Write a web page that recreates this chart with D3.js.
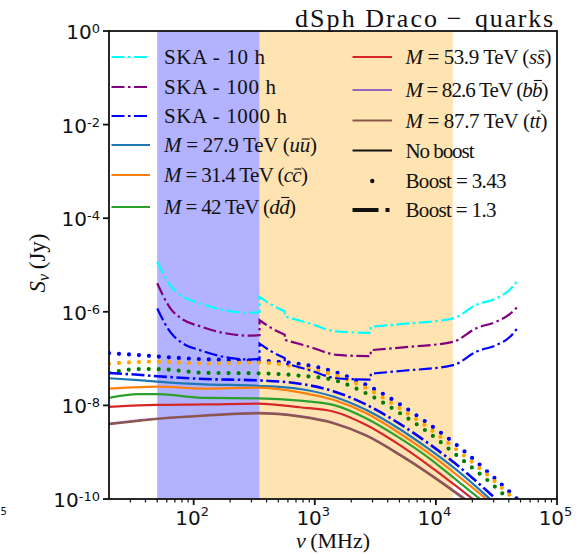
<!DOCTYPE html>
<html>
<head>
<meta charset="utf-8">
<script src="https://cdn.jsdelivr.net/npm/d3@7"></script>
<style>
  html, body { margin: 0; padding: 0; background: #fff; }
  svg { display: block; }
</style>
</head>
<body>
<svg id="chart" width="588" height="555"></svg>
<script>
// ---------------------------------------------------------------
// Data: synchrotron flux density from dark-matter annihilation in
// the Draco dwarf spheroidal, with SKA sensitivity curves.
// Flux values are stored as log10(S / Jy); frequencies in MHz.
// ---------------------------------------------------------------

// Frequency grid of the model spectra (MHz)
const modelFreq = [20, 35, 50, 124, 341, 753, 1420, 2670, 5040, 8610, 15500, 28000, 50000];

// No-boost spectra, log10(S/Jy)
const logS_uu = [-7.42, -7.46, -7.49, -7.55, -7.58, -7.65, -7.81, -8.10, -8.51, -8.92, -9.42, -10.00, -10.60];
const logS_cc = [-7.64, -7.61, -7.60, -7.64, -7.62, -7.72, -7.88, -8.17, -8.60, -9.01, -9.52, -10.07, -10.67];
const logS_dd = [-7.84, -7.76, -7.76, -7.84, -7.85, -7.90, -7.99, -8.28, -8.70, -9.11, -9.64, -10.18, -10.78];
const logS_ss = [-8.03, -8.00, -7.99, -7.98, -7.96, -8.04, -8.13, -8.42, -8.85, -9.27, -9.77, -10.30, -10.90];
const logS_bb = [-8.39, -8.32, -8.28, -8.21, -8.16, -8.23, -8.37, -8.64, -9.05, -9.44, -9.90, -10.41, -11.00];
const logS_tt = [-8.40, -8.33, -8.29, -8.22, -8.17, -8.24, -8.38, -8.65, -9.06, -9.45, -9.92, -10.42, -11.02];

// Substructure boost factors
const boostHigh = 3.43;
const boostLow = 1.3;

// SKA sensitivity: frequency bands (MHz) joined by vertical steps
const skaFreq = [
  [50, 64, 82, 113, 175, 291, 350],
  [350, 440, 565],
  [565, 910, 1515, 2900],
  [2900, 5360, 13870, 21600, 31600, 40700, 47700]
];
const logS_ska10h = [
  [-4.93, -5.43, -5.68, -5.82, -5.96, -6.02, -6.00],
  [-5.68, -5.85, -5.99],
  [-6.10, -6.25, -6.42, -6.45],
  [-6.32, -6.26, -6.14, -5.85, -5.71, -5.53, -5.32]
];
const logS_ska100h = [
  [-5.39, -5.92, -6.17, -6.31, -6.45, -6.51, -6.50],
  [-6.18, -6.35, -6.49],
  [-6.60, -6.75, -6.92, -6.95],
  [-6.82, -6.76, -6.64, -6.35, -6.21, -6.05, -5.88]
];
const logS_ska1000h = [
  [-5.93, -6.43, -6.68, -6.82, -6.96, -7.02, -7.00],
  [-6.68, -6.85, -6.99],
  [-7.10, -7.25, -7.42, -7.45],
  [-7.32, -7.26, -7.14, -6.85, -6.71, -6.54, -6.33]
];

// SKA-Low and SKA-Mid frequency coverage (MHz)
const skaLowRange = [50, 350];
const skaMidRange = [350, 13800];

// Axis ticks
const xTickExponents = [2, 3, 4, 5];
const yTickExponents = [0, -2, -4, -6, -8, -10];

// ---------------------------------------------------------------
// Layout
// ---------------------------------------------------------------
const W = 588, H = 555;
const plot = { left: 109, right: 557, top: 31, bottom: 499 };
const SERIF = "'Liberation Serif', 'Times New Roman', serif";
const SANS = "'DejaVu Sans', sans-serif";

const svg = d3.select("#chart");
svg.append("rect").attr("width", W).attr("height", H).attr("fill", "#fff");

const x = d3.scaleLog().domain([20, 1e5]).range([plot.left, plot.right]);
const y = d3.scaleLog().domain([1e-10, 1]).range([plot.bottom, plot.top]);
const pow10 = v => Math.pow(10, v);

svg.append("defs").append("clipPath").attr("id", "plotClip")
  .append("rect")
  .attr("x", plot.left).attr("y", plot.top)
  .attr("width", plot.right - plot.left)
  .attr("height", plot.bottom - plot.top);

const gPlot = svg.append("g").attr("clip-path", "url(#plotClip)");

// Shaded SKA frequency ranges
const bands = [
  { range: skaLowRange, color: "#0000ff" },
  { range: skaMidRange, color: "#ffa500" }
];
gPlot.selectAll("rect.band").data(bands).join("rect")
  .attr("class", "band")
  .attr("x", d => x(d.range[0]))
  .attr("width", d => x(d.range[1]) - x(d.range[0]))
  .attr("y", plot.top)
  .attr("height", plot.bottom - plot.top)
  .attr("fill", d => d.color)
  .attr("fill-opacity", 0.3);

// Line builders
const line = d3.line()
  .x(d => x(d[0]))
  .y(d => y(d[1]))
  .curve(d3.curveMonotoneX);

function spectrumPath(freqs, logs, factor = 1) {
  return line(freqs.map((f, i) => [f, pow10(logs[i]) * factor]));
}
// Joins several bands into one continuous path (vertical steps between bands)
function bandedPath(freqBands, logBands) {
  return freqBands.map((fs, i) => {
    const p = spectrumPath(fs, logBands[i]);
    return i === 0 ? p : "L" + p.slice(1);
  }).join("");
}

const DASHDOT = "13 3.5 2.5 3.5";

// No-boost spectra
const models = [
  { logs: logS_uu, color: "#1f77b4" },
  { logs: logS_cc, color: "#ff7f0e" },
  { logs: logS_dd, color: "#2ca02c" },
  { logs: logS_ss, color: "#d62728" },
  { logs: logS_bb, color: "#9467bd" },
  { logs: logS_tt, color: "#8c564b" }
];
gPlot.selectAll("path.model").data(models).join("path")
  .attr("class", "model")
  .attr("d", d => spectrumPath(modelFreq, d.logs))
  .attr("fill", "none")
  .attr("stroke", d => d.color)
  .attr("stroke-width", 2.2);

// Boosted spectra (dotted: boost 3.43)
const boosted = [
  { logs: logS_uu, color: "#0000ff" },
  { logs: logS_cc, color: "#ffa500" },
  { logs: logS_dd, color: "#008000" }
];
gPlot.selectAll("path.boosted").data(boosted).join("path")
  .attr("class", "boosted")
  .attr("d", d => spectrumPath(modelFreq, d.logs, boostHigh))
  .attr("fill", "none")
  .attr("stroke", d => d.color)
  .attr("stroke-width", 4.2)
  .attr("stroke-linecap", "round")
  .attr("stroke-dasharray", "0 10");

// Boost 1.3 spectrum (dash-dot)
gPlot.append("path")
  .attr("d", spectrumPath(modelFreq, logS_uu, boostLow))
  .attr("fill", "none")
  .attr("stroke", "#0000ff")
  .attr("stroke-width", 2.6)
  .attr("stroke-dasharray", DASHDOT);

// SKA sensitivity curves
const ska = [
  { logs: logS_ska10h, color: "#00ffff" },
  { logs: logS_ska100h, color: "#800080" },
  { logs: logS_ska1000h, color: "#0000ff" }
];
gPlot.selectAll("path.ska").data(ska).join("path")
  .attr("class", "ska")
  .attr("d", d => bandedPath(skaFreq, d.logs))
  .attr("fill", "none")
  .attr("stroke", d => d.color)
  .attr("stroke-width", 2.2)
  .attr("stroke-dasharray", DASHDOT);

// ---------------------------------------------------------------
// Axes
// ---------------------------------------------------------------
const gAxes = svg.append("g");
const AX = "#111";

// x ticks (major + minor)
const xMinor = [];
for (let e = 1; e < 5; e++) {
  for (let m = 2; m <= 9; m++) {
    const v = m * Math.pow(10, e);
    if (v > 20 && v < 1e5) xMinor.push(v);
  }
}
gAxes.selectAll("line.xminor").data(xMinor).join("line")
  .attr("x1", d => x(d)).attr("x2", d => x(d))
  .attr("y1", plot.bottom).attr("y2", plot.bottom + 3.5)
  .attr("stroke", AX).attr("stroke-width", 1.2);
gAxes.selectAll("line.xmajor").data(xTickExponents).join("line")
  .attr("x1", d => x(pow10(d))).attr("x2", d => x(pow10(d)))
  .attr("y1", plot.bottom).attr("y2", plot.bottom + 6)
  .attr("stroke", AX).attr("stroke-width", 1.8);

const xLabels = gAxes.selectAll("text.xtick").data(xTickExponents).join("text")
  .attr("x", d => x(pow10(d)) - 1.5)
  .attr("y", 525)
  .attr("text-anchor", "middle")
  .attr("font-family", SANS).attr("font-size", 20).attr("fill", "#111");
xLabels.append("tspan").text("10");
xLabels.append("tspan").attr("font-size", 13).attr("dy", -9).text(d => String(d));

// y ticks
gAxes.selectAll("line.ymajor").data(yTickExponents).join("line")
  .attr("x1", plot.left - 6).attr("x2", plot.left)
  .attr("y1", d => y(pow10(d))).attr("y2", d => y(pow10(d)))
  .attr("stroke", AX).attr("stroke-width", 1.8);

const yLabels = gAxes.selectAll("text.ytick").data(yTickExponents).join("text")
  .attr("x", 100)
  .attr("y", d => y(pow10(d)) + 8)
  .attr("text-anchor", "end")
  .attr("font-family", SANS).attr("font-size", 20).attr("fill", "#111");
yLabels.append("tspan").text("10");
yLabels.append("tspan").attr("font-size", 13).attr("dy", -6).text(d => String(d));

// Frame
gAxes.append("rect")
  .attr("x", plot.left).attr("y", plot.top)
  .attr("width", plot.right - plot.left)
  .attr("height", plot.bottom - plot.top)
  .attr("fill", "none").attr("stroke", AX).attr("stroke-width", 1.8);

// Axis titles
const xTitle = svg.append("text")
  .attr("x", 333).attr("y", 548)
  .attr("text-anchor", "middle")
  .attr("font-family", SERIF).attr("font-size", 22).attr("fill", "#111");
xTitle.append("tspan").attr("font-style", "italic").text("ν");
xTitle.append("tspan").text("\u2009(MHz)");

const yTitle = svg.append("text")
  .attr("transform", "translate(45,263) rotate(-90)")
  .attr("text-anchor", "middle")
  .attr("font-family", SERIF).attr("font-size", 23).attr("fill", "#111");
yTitle.append("tspan").attr("font-style", "italic").text("S");
yTitle.append("tspan").attr("font-style", "italic").attr("font-size", 16).attr("dy", 4).text("ν");
yTitle.append("tspan").attr("dy", -4).text("\u2009(Jy)");

// Title
const titleG = svg.append("g").attr("font-family", SERIF).attr("font-size", 26).attr("fill", "#111");
titleG.append("text").attr("x", 295).attr("y", 27).attr("textLength", 142).attr("lengthAdjust", "spacing").text("dSph Draco");
titleG.append("text").attr("x", 454).attr("y", 27).attr("text-anchor", "middle").text("\u2212");
titleG.append("text").attr("x", 475).attr("y", 27).attr("textLength", 78).attr("lengthAdjust", "spacing").text("quarks");

// Edge of a neighbouring panel's tick label
svg.append("text").attr("x", 0.5).attr("y", 515)
  .attr("font-family", SANS).attr("font-size", 10).attr("fill", "#111").text("5");

// ---------------------------------------------------------------
// Legends
// ---------------------------------------------------------------
const gLeg = svg.append("g");

function massLabel(mass, q) {
  return [["M", "i"], [" = " + mass + " TeV (", "r"], [q, "i"], [q, "i", "bar"], [")", "r"]];
}

function drawLabel(xPos, yBase, parts, width) {
  const t = gLeg.append("text")
    .attr("x", xPos).attr("y", yBase)
    .attr("font-family", SERIF).attr("font-size", 21).attr("fill", "#111")
    .attr("textLength", width).attr("lengthAdjust", "spacing");
  let idx = 0;
  const bars = [];
  parts.forEach(p => {
    const ts = t.append("tspan").text(p[0]);
    if (p[1] === "i") ts.attr("font-style", "italic");
    if (p[2] === "bar") bars.push({ idx, ch: p[0] });
    idx += p[0].length;
  });
  bars.forEach(b => {
    const ext = t.node().getExtentOfChar(b.idx);
    const tall = "bdt".includes(b.ch);
    const yb = yBase - (tall ? 16.5 : 13);
    gLeg.append("line")
      .attr("x1", ext.x + 2).attr("x2", ext.x + ext.width - 0.5)
      .attr("y1", yb).attr("y2", yb)
      .attr("stroke", "#111").attr("stroke-width", 1.1);
  });
}

function legendHandle(x1, x2, yy, style) {
  if (style.type === "dot") {
    gLeg.append("circle").attr("cx", (x1 + x2) / 2).attr("cy", yy).attr("r", 2.2).attr("fill", style.color);
    return;
  }
  const l = gLeg.append("line")
    .attr("x1", x1).attr("x2", x2).attr("y1", yy).attr("y2", yy)
    .attr("stroke", style.color).attr("stroke-width", style.width);
  if (style.dash) l.attr("stroke-dasharray", style.dash);
}

const leftLegend = [
  { y: 57, style: { color: "#00ffff", width: 2.2, dash: DASHDOT }, parts: [["SKA - 10 h", "r"]], w: 101 },
  { y: 87, style: { color: "#800080", width: 2.2, dash: DASHDOT }, parts: [["SKA - 100 h", "r"]], w: 112 },
  { y: 116, style: { color: "#0000ff", width: 2.2, dash: DASHDOT }, parts: [["SKA - 1000 h", "r"]], w: 123 },
  { y: 145, style: { color: "#1f77b4", width: 2.2 }, parts: massLabel("27.9", "u"), w: 153 },
  { y: 175, style: { color: "#ff7f0e", width: 2.2 }, parts: massLabel("31.4", "c"), w: 144 },
  { y: 207, style: { color: "#2ca02c", width: 2.2 }, parts: massLabel("42", "d"), w: 132 }
];
const rightLegend = [
  { y: 57, style: { color: "#d62728", width: 2.2 }, parts: massLabel("53.9", "s"), w: 146 },
  { y: 90, style: { color: "#9467bd", width: 2.2 }, parts: massLabel("82.6", "b"), w: 143 },
  { y: 120.5, style: { color: "#8c564b", width: 2.2 }, parts: massLabel("87.7", "t"), w: 142 },
  { y: 150.5, style: { color: "#111", width: 2.2 }, parts: [["No boost", "r"]], w: 69 },
  { y: 181, style: { type: "dot", color: "#111" }, parts: [["Boost = 3.43", "r"]], w: 101 },
  { y: 210, style: { color: "#111", width: 4, dash: "26 7 4 7" }, parts: [["Boost = 1.3", "r"]], w: 91 }
];

leftLegend.forEach(d => {
  legendHandle(111.5, 150, d.y, d.style);
  drawLabel(164, d.y + 7, d.parts, d.w);
});
rightLegend.forEach(d => {
  legendHandle(352.5, 392, d.y, d.style);
  drawLabel(405.5, d.y + 7, d.parts, d.w);
});
</script>
</body>
</html>
